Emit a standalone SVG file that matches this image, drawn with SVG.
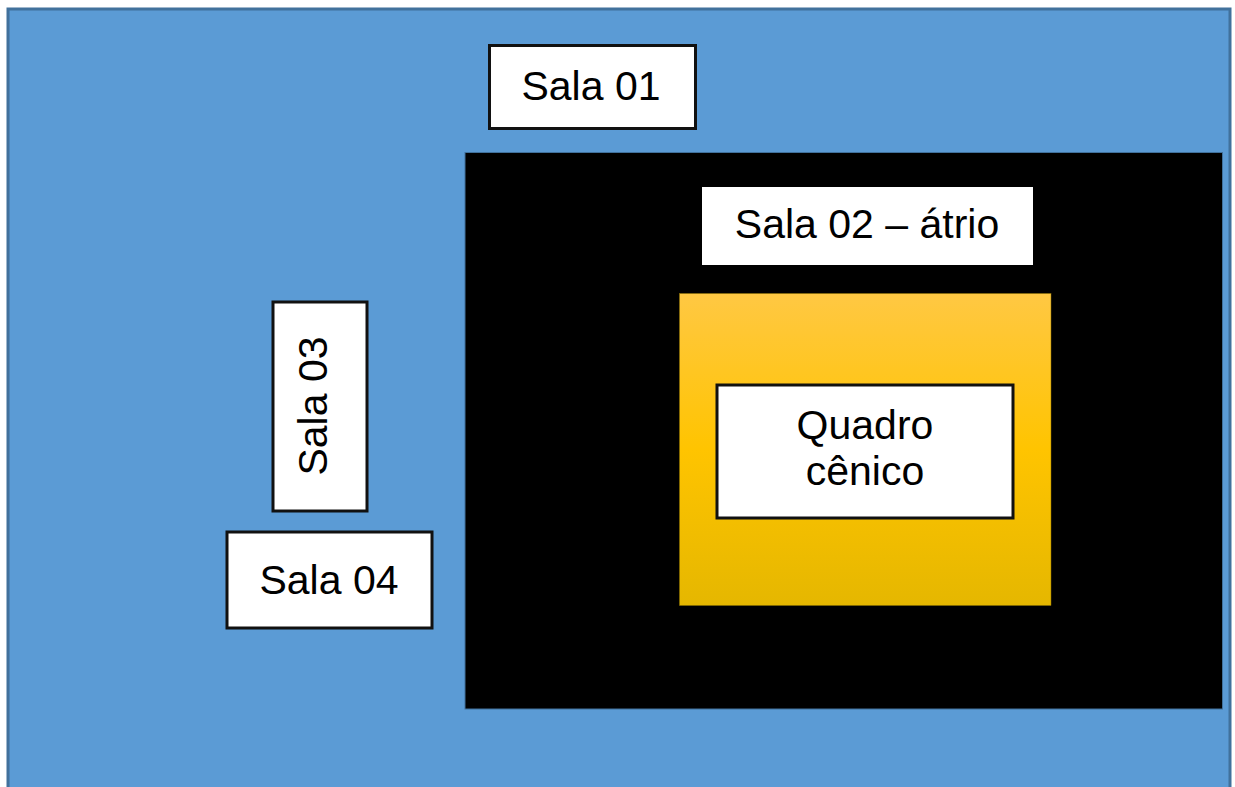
<svg xmlns="http://www.w3.org/2000/svg" width="1235" height="787" viewBox="0 0 1235 787">
<defs>
<linearGradient id="gold" x1="0" y1="0" x2="0" y2="1">
<stop offset="0" stop-color="#ffc843"/>
<stop offset="0.5" stop-color="#ffc400"/>
<stop offset="1" stop-color="#e5b700"/>
</linearGradient>
</defs>
<style>
.box{fill:#ffffff;stroke:#111111;stroke-width:3}
.t{font-family:"Liberation Sans",Arial,sans-serif;font-size:41px;fill:#000000;text-anchor:middle}
</style>
<rect x="0" y="0" width="1235" height="787" fill="#ffffff"/>
<rect id="area" x="8" y="9" width="1222" height="790" fill="#5b9bd5" stroke="#41719c" stroke-width="3"/>
<g id="sala02">
<rect x="465" y="152.5" width="757.5" height="556.5" fill="#000000" stroke="#41719c" stroke-width="1"/>
<rect x="702" y="187" width="331" height="78" fill="#ffffff"/>
<text class="t" x="867" y="238">Sala 02 – átrio</text>
</g>
<g id="palco">
<rect x="679.5" y="293.5" width="371.5" height="312" fill="url(#gold)" stroke="#8a7000" stroke-width="0.5"/>
</g>
<g id="quadro">
<rect class="box" x="717" y="385" width="296" height="133"/>
<text class="t" x="865" y="439">Quadro</text>
<text class="t" x="865" y="485">cênico</text>
</g>
<g id="sala01">
<rect class="box" x="489.5" y="45.5" width="206" height="83"/>
<text class="t" x="591" y="100">Sala 01</text>
</g>
<g id="sala03">
<rect class="box" x="273" y="302" width="94" height="209"/>
<text class="t" transform="translate(327 406) rotate(-90)" x="0" y="0">Sala 03</text>
</g>
<g id="sala04">
<rect class="box" x="227" y="532" width="205" height="96"/>
<text class="t" x="329" y="594">Sala 04</text>
</g>
<g id="connectors"/>
</svg>
